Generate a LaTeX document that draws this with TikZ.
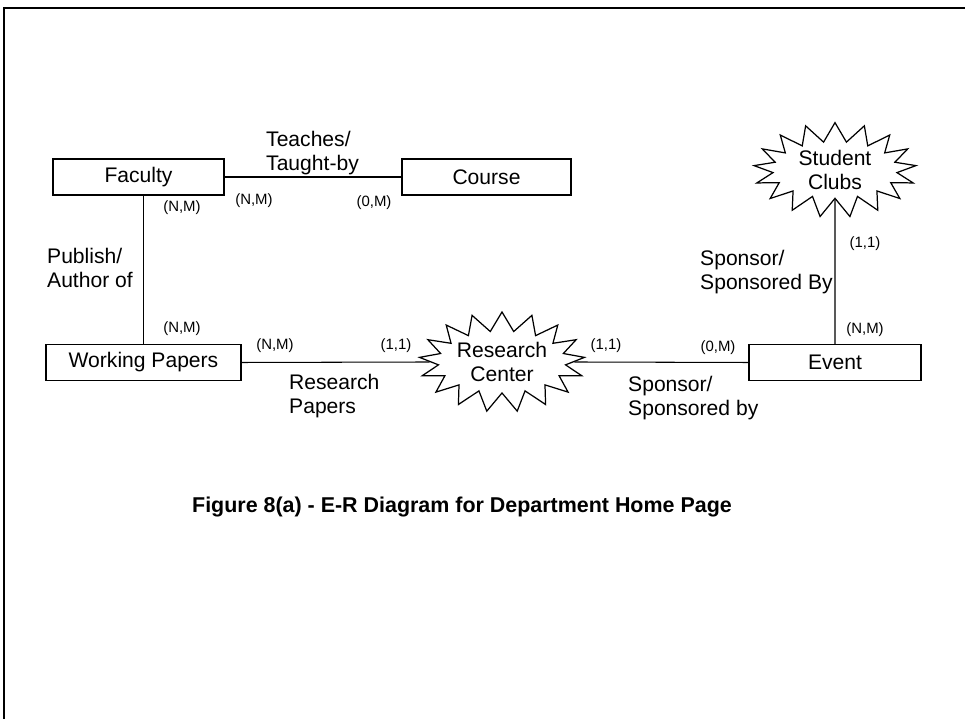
\documentclass[tikz,border=0pt]{standalone}
\usepackage{fontspec}
\setmainfont{Liberation Sans}
\usetikzlibrary{shapes.symbols}

\begin{document}
\begin{tikzpicture}[
    entity/.style={draw, line width=0.7pt, minimum height=0.72cm, inner sep=0pt,
      font=\fontsize{12}{14}\selectfont},
    burst/.style={draw, line width=0.7pt, starburst, starburst points=17,
      starburst point height=0.38cm, random starburst=0, align=center,
      inner sep=0pt, font=\fontsize{12}{14}\selectfont},
    card/.style={font=\fontsize{8.5}{10}\selectfont},
    rel/.style={anchor=west, align=left, font=\fontsize{12}{14}\selectfont}
  ]
    \useasboundingbox (0,0) rectangle (19.3,14.38);
    % scanned frame
    \draw[line width=1.3pt] (0.08,0) -- (0.08,14.22) -- (19.3,14.22);

    \node[entity, minimum width=3.42cm] (faculty) at (2.77,10.84) {Faculty};
    \node[entity, minimum width=3.38cm] (course) at (9.73,10.84) {Course};
    \node[entity, minimum width=3.9cm] (papers) at (2.87,7.13) {Working Papers};
    \node[entity, minimum width=3.44cm] (event) at (16.7,7.13) {Event};
    \node[burst, minimum width=3.25cm, minimum height=2cm] (center) at (10.04,7.14) {Research\\Center};
    \node[burst, minimum width=3.25cm, minimum height=1.72cm] (clubs) at (16.7,10.98) {Student\\Clubs};

    \draw[line width=0.6pt] (faculty.east) -- (course.west);
    \draw[line width=0.6pt] (papers.north) -- (papers.north |- faculty.south);
    \draw[line width=0.6pt] (papers.east) -- (center.west);
    \draw[line width=0.6pt] (center.east) -- (event.west);
    \draw[line width=0.6pt] (clubs.south) -- (event.north);

    \node[rel] (teaches) at (5.2,11.32) {Teaches/\\Taught-by};
    \node[rel] (publish) at (0.82,9.02) {Publish/\\Author of};
    \node[rel] (research) at (5.66,6.46) {Research\\Papers};
    \node[rel] (sponsorA) at (12.44,6.42) {Sponsor/\\Sponsored by};
    \node[rel] (sponsorB) at (13.88,8.94) {Sponsor/\\Sponsored By};

    \node[card] (c1) at (5.08,10.36) {(N,M)};
    \node[card] (c2) at (7.48,10.32) {(0,M)};
    \node[card] (c3) at (3.64,10.22) {(N,M)};
    \node[card] (c4) at (3.64,7.8) {(N,M)};
    \node[card] (c5) at (5.5,7.46) {(N,M)};
    \node[card] (c6) at (7.92,7.46) {(1,1)};
    \node[card] (c7) at (12.12,7.46) {(1,1)};
    \node[card] (c8) at (14.36,7.42) {(0,M)};
    \node[card] (c9) at (17.3,9.5) {(1,1)};
    \node[card] (c10) at (17.3,7.78) {(N,M)};

    \node[font=\bfseries\fontsize{12.2}{14}\selectfont] (caption) at (9.24,4.24)
      {Figure 8(a) - E-R Diagram for Department Home Page};
  \end{tikzpicture}
\end{document}
